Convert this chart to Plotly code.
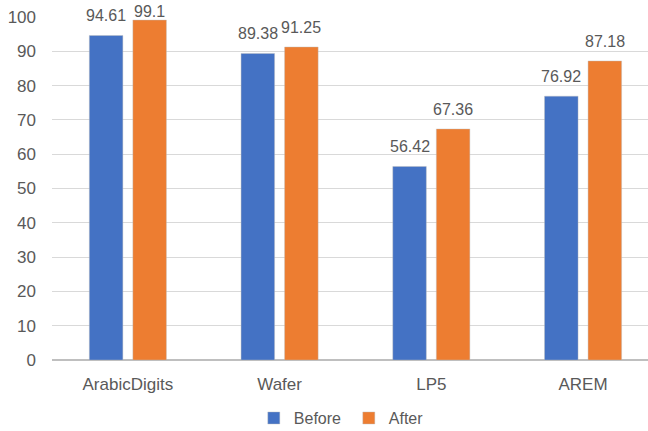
import plotly.graph_objects as go

categories = ["ArabicDigits", "Wafer", "LP5", "AREM"]
before = [94.61, 89.38, 56.42, 76.92]
after = [99.1, 91.25, 67.36, 87.18]
before_labels = ["94.61", "89.38", "56.42", "76.92"]
after_labels = ["99.1", "91.25", "67.36", "87.18"]

FONT = "Liberation Sans, Arial, sans-serif"
GRAY = "#595959"

TOP, BOTTOM, LEFT = 17, 71, 52
PLOT_H = 431 - TOP - BOTTOM
X_RANGE = [-0.5, 3.428]
CAT_PX = (648 - LEFT) / (X_RANGE[1] - X_RANGE[0])
BARGAP, GROUPGAP = 0.426, 0.23
SLOT = (1 - BARGAP) / 2  # width of one bar slot, in category units

fig = go.Figure()
fig.add_trace(go.Bar(name="Before", x=categories, y=before, marker_color="#4472C4",
                     marker_line=dict(color="rgba(190,190,190,0.7)", width=0.6)))
fig.add_trace(go.Bar(name="After", x=categories, y=after, marker_color="#ED7D31",
                     marker_line=dict(color="rgba(190,190,190,0.7)", width=0.6)))

# value labels above each bar, lifted clear of the bar top but kept inside the page
annotations = []
for series, labels, side in ((before, before_labels, -1), (after, after_labels, 1)):
    for cat, val, lab in zip(categories, series, labels):
        room = (100 - val) * PLOT_H / 100 + TOP - 22
        annotations.append(dict(
            x=cat, y=val, xref="x", yref="y", text=lab, showarrow=False,
            xanchor="center", yanchor="bottom",
            xshift=side * SLOT / 2 * CAT_PX, yshift=min(9, room),
            font=dict(family=FONT, size=16, color=GRAY),
        ))

fig.update_layout(
    width=648, height=431,
    margin=dict(l=LEFT, r=0, t=TOP, b=BOTTOM, autoexpand=False),
    paper_bgcolor="white", plot_bgcolor="white",
    barmode="group", bargap=BARGAP, bargroupgap=GROUPGAP,
    font=dict(family=FONT, size=16, color=GRAY),
    legend=dict(orientation="h", x=0.498, xanchor="center",
                yref="container", y=0.03, yanchor="middle",
                font=dict(family=FONT, size=16, color=GRAY),
                itemwidth=30, entrywidth=50, tracegroupgap=0),
    annotations=annotations,
)
fig.update_yaxes(range=[0, 100], dtick=10, showgrid=True, gridcolor="#D9D9D9",
                 gridwidth=1, zeroline=True, zerolinecolor="#BFBFBF", zerolinewidth=1.5,
                 tickfont=dict(family=FONT, size=17, color=GRAY), ticks="",
                 showline=False, ticklabelstandoff=15)
fig.update_xaxes(range=X_RANGE, tickfont=dict(family=FONT, size=17, color=GRAY),
                 showline=False, ticks="", ticklabelstandoff=12)

fig.write_html("out.html")
